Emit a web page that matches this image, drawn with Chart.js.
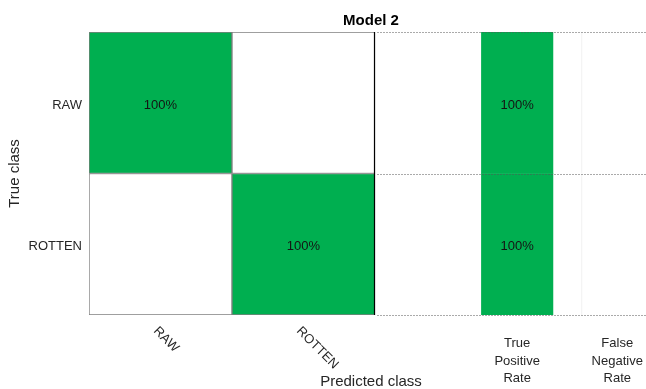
<!DOCTYPE html>
<html>
<head>
<meta charset="utf-8">
<script src="https://cdn.jsdelivr.net/npm/chart.js@4/dist/chart.umd.min.js"></script>
<style>
  html, body { margin: 0; padding: 0; background: #fff; overflow: hidden; }
  #wrap { width: 646px; height: 389px; overflow: hidden; position: relative; }
  canvas { display: block; }
</style>
</head>
<body>
<div id="wrap"><canvas id="chart" width="656" height="389"></canvas></div>
<script>
// Confusion chart: rows are the true class, columns the predicted class (row-normalised %)
const classes = ['RAW', 'ROTTEN'];
const predictedRaw = [100, 0];
const predictedRotten = [0, 100];
const truePositiveRate = [100, 100];
const falseNegativeRate = [0, 0];
const summaryLabels = [['True', 'Positive', 'Rate'], ['False', 'Negative', 'Rate']];
const chartTitle = 'Model 2';
const xAxisTitle = 'Predicted class';
const yAxisTitle = 'True class';

// Horizontal placement on the x scale (one matrix cell = 1 unit)
const spans = {
  predRaw: [0, 1],
  predRotten: [1, 2],
  tpr: [2.745, 3.245],
  fnr: [3.445, 3.945]
};
const X_MAX = 3.945;

const FONT = '"Liberation Sans", Arial, Helvetica, sans-serif';
const TEXT = '#262626';
const GOOD = [0, 175, 80];
const BAD = [217, 83, 25];

function shade(rgb) {
  return v => {
    const t = v / 100;
    const c = rgb.map(ch => Math.round(255 + (ch - 255) * t));
    return `rgb(${c[0]},${c[1]},${c[2]})`;
  };
}

function cellSet(span, values, colourFn, border) {
  return {
    data: classes.map(() => span),
    values: values,
    backgroundColor: values.map(colourFn),
    borderColor: border.color,
    borderWidth: border.width,
    borderSkipped: false,
    grouped: false,
    barPercentage: 1,
    categoryPercentage: 1
  };
}

const overlay = {
  id: 'overlay',
  afterDatasetsDraw(chart) {
    const { ctx, chartArea: a, scales: { x, y } } = chart;
    ctx.save();

    // cell percentages
    ctx.font = '13px ' + FONT;
    ctx.fillStyle = '#141414';
    ctx.textAlign = 'center';
    ctx.textBaseline = 'middle';
    chart.data.datasets.forEach((ds, di) => {
      chart.getDatasetMeta(di).data.forEach((bar, i) => {
        const v = ds.values[i];
        if (!v) return;
        const p = bar.getCenterPoint();
        ctx.fillText(v + '%', p.x, p.y + 2.5);
      });
    });

    // right edge of the matrix
    const xr = Math.round(x.getPixelForValue(spans.predRotten[1])) - 0.5;
    ctx.strokeStyle = '#000';
    ctx.lineWidth = 1.2;
    ctx.beginPath();
    ctx.moveTo(xr, a.top);
    ctx.lineTo(xr, a.bottom);
    ctx.stroke();

    // dotted row separators across the summary area
    ctx.lineWidth = 1;
    ctx.setLineDash([1, 2]);
    ctx.strokeStyle = '#555';
    for (let k = -0.5; k <= classes.length - 0.5; k += 1) {
      const yy = Math.round(y.getPixelForValue(k)) + 0.5;
      ctx.beginPath();
      ctx.moveTo(xr + 3, yy);
      ctx.lineTo(a.right, yy);
      ctx.stroke();
    }
    ctx.setLineDash([]);

    // true-class labels
    ctx.fillStyle = TEXT;
    ctx.font = '13px ' + FONT;
    ctx.textAlign = 'right';
    ctx.textBaseline = 'middle';
    classes.forEach((c, i) => {
      ctx.fillText(c, a.left - 7, y.getPixelForValue(i) + 2.5);
    });

    // predicted-class labels, slanted
    ctx.textAlign = 'left';
    [spans.predRaw, spans.predRotten].forEach((sp, i) => {
      const cx = x.getPixelForValue((sp[0] + sp[1]) / 2);
      ctx.save();
      ctx.translate(cx - 5, a.bottom + 14);
      ctx.rotate(Math.PI / 4);
      ctx.fillText(classes[i], 0, 0);
      ctx.restore();
    });

    // summary column labels
    ctx.textAlign = 'center';
    [spans.tpr, spans.fnr].forEach((sp, i) => {
      const cx = x.getPixelForValue((sp[0] + sp[1]) / 2);
      summaryLabels[i].forEach((line, j) => {
        ctx.fillText(line, cx, a.bottom + 28.5 + j * 17.5);
      });
    });

    ctx.restore();
  }
};

Chart.defaults.font.family = FONT;

new Chart(document.getElementById('chart'), {
  type: 'bar',
  data: {
    labels: classes,
    datasets: [
      cellSet(spans.predRaw, predictedRaw, shade(GOOD), { color: '#7f7f7f', width: 1 }),
      cellSet(spans.predRotten, predictedRotten, shade(GOOD), { color: '#7f7f7f', width: 1 }),
      cellSet(spans.tpr, truePositiveRate, shade(GOOD), { color: 'rgba(0,0,0,0)', width: 0 }),
      cellSet(spans.fnr, falseNegativeRate, shade(BAD), { color: '#efefef', width: { left: 1, right: 0, top: 0, bottom: 0 } })
    ]
  },
  options: {
    indexAxis: 'y',
    responsive: false,
    animation: false,
    layout: { padding: { left: 0, right: 3, top: 0, bottom: 0 } },
    plugins: {
      legend: { display: false },
      tooltip: { enabled: false },
      title: {
        display: true,
        text: chartTitle,
        fullSize: false,
        color: '#000',
        font: { size: 15, weight: 'bold', family: FONT },
        padding: { top: 12, bottom: 2 }
      }
    },
    scales: {
      x: {
        type: 'linear',
        min: 0,
        max: X_MAX,
        grid: { display: false },
        border: { display: false },
        ticks: { display: false },
        title: {
          display: true,
          text: xAxisTitle,
          color: TEXT,
          font: { size: 15, family: FONT },
          padding: { top: 0, bottom: -2 }
        },
        afterFit(scale) { scale.height = 74; }
      },
      y: {
        type: 'category',
        grid: { display: false, drawTicks: false },
        border: { display: false },
        ticks: { display: false },
        title: {
          display: true,
          text: yAxisTitle,
          color: TEXT,
          font: { size: 15, family: FONT },
          padding: { top: 6, bottom: 0 }
        },
        afterFit(scale) { scale.width = 89; }
      }
    }
  },
  plugins: [overlay]
});
</script>
</body>
</html>
